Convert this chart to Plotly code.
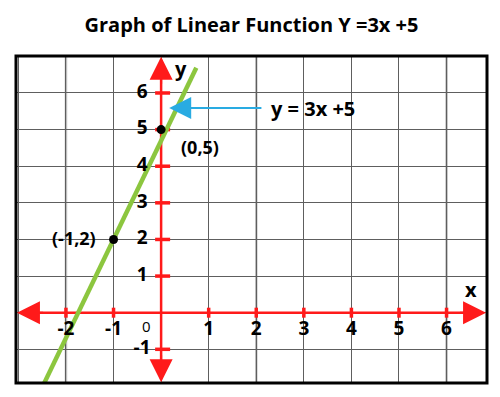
import plotly.graph_objects as go

# ---- data ----
line_x = [-2.46, 0.74]
line_y = [-1.93, 6.69]
point_x = [-1, 0]
point_y = [2, 5]
point_labels = ["(-1,2)", "(0,5)"]
x_ticks = [-2, -1, 1, 2, 3, 4, 5, 6]
x_tick_labels = ["-2", "-1", "1", "2", "3", "4", "5", "6"]
y_ticks = [-1, 1, 2, 3, 4, 5, 6]
y_tick_labels = ["-1", "1", "2", "3", "4", "5", "6"]
light_grid_x = [-2, 2, 6]
equation_label = "y = 3x +5"
title_text = "Graph of Linear Function Y =3x +5"

XR = [-3.05, 6.85]
YR = [-1.92, 7.01]
RED = "#ff1a1a"
FONT = "Open Sans"

fig = go.Figure()

# red axes (lines)
fig.add_trace(go.Scatter(x=[XR[0] + 0.1, XR[1] - 0.1], y=[0, 0], mode="lines",
                         line=dict(color=RED, width=2.5), hoverinfo="skip"))
fig.add_trace(go.Scatter(x=[0, 0], y=[YR[0] + 0.1, YR[1] - 0.1], mode="lines",
                         line=dict(color=RED, width=2.5), hoverinfo="skip"))

# green function line
fig.add_trace(go.Scatter(x=line_x, y=line_y, mode="lines",
                         line=dict(color="#8cc63f", width=4.5),
                         hoverinfo="skip", cliponaxis=True))
# points
fig.add_trace(go.Scatter(x=point_x, y=point_y, mode="markers",
                         marker=dict(color="black", size=9),
                         hoverinfo="skip", cliponaxis=False))

# x tick labels
fig.add_trace(go.Scatter(x=x_ticks, y=[-0.47] * len(x_ticks), mode="text",
                         text=x_tick_labels,
                         textfont=dict(family=FONT, size=19, color="black", weight=700),
                         hoverinfo="skip", cliponaxis=False))
# y tick labels
fig.add_trace(go.Scatter(x=[-0.4] * len(y_ticks), y=y_ticks, mode="text",
                         text=y_tick_labels,
                         textfont=dict(family=FONT, size=19, color="black", weight=700),
                         hoverinfo="skip", cliponaxis=False))

layout_shapes = []
# light grey vertical grid
for gx in light_grid_x:
    layout_shapes.append(dict(type="line", xref="x", yref="paper", x0=gx, x1=gx, y0=0, y1=1,
                              line=dict(color="#bdbdbd", width=2.5), layer="between"))
# red ticks on x axis
for tx in x_ticks:
    layout_shapes.append(dict(type="line", xref="x", yref="y", x0=tx, x1=tx,
                              ysizemode="pixel", yanchor=0, y0=-5, y1=5,
                              line=dict(color=RED, width=3.5), layer="between"))
# red ticks on y axis
for ty in y_ticks:
    layout_shapes.append(dict(type="line", xref="x", yref="y", y0=ty, y1=ty,
                              xsizemode="pixel", xanchor=0, x0=-6, x1=9,
                              line=dict(color=RED, width=3.5), layer="between"))
# frame
layout_shapes.append(dict(type="rect", xref="paper", yref="paper", x0=0, x1=1, y0=0, y1=1,
                          line=dict(color="black", width=3)))

annotations = []
# red arrowheads at the axis ends
arrow_specs = [
    (XR[1] - 0.02, 0, XR[1] - 0.6, 0),
    (XR[0] + 0.02, 0, XR[0] + 0.6, 0),
    (0, YR[1] - 0.02, 0, YR[1] - 0.8),
    (0, YR[0] + 0.02, 0, YR[0] + 0.8),
]
for (hx, hy, tx, ty) in arrow_specs:
    annotations.append(dict(x=hx, y=hy, ax=tx, ay=ty, xref="x", yref="y",
                            axref="x", ayref="y", text="", showarrow=True,
                            arrowhead=2, arrowsize=2.3,
                            arrowwidth=2, arrowcolor=RED))
# blue arrow
annotations.append(dict(x=0.17, y=5.59, ax=2.14, ay=5.59, xref="x", yref="y",
                        axref="x", ayref="y", text="", showarrow=True,
                        arrowhead=2, arrowsize=2.2, arrowwidth=2, arrowcolor="#29abe2"))
# labels
annotations.append(dict(x=2.27, y=5.59, xref="x", yref="y", text=equation_label,
                        showarrow=False, xanchor="left",
                        font=dict(family=FONT, size=20, color="black", weight=700)))
annotations.append(dict(x=0.82, y=4.53, xref="x", yref="y", text=point_labels[1],
                        showarrow=False,
                        font=dict(family=FONT, size=18, color="black", weight=700)))
annotations.append(dict(x=-1.83, y=2.03, xref="x", yref="y", text=point_labels[0],
                        showarrow=False,
                        font=dict(family=FONT, size=18, color="black", weight=700)))
annotations.append(dict(x=0.42, y=6.68, xref="x", yref="y", text="y",
                        showarrow=False,
                        font=dict(family=FONT, size=20, color="black", weight=700)))
annotations.append(dict(x=6.52, y=0.62, xref="x", yref="y", text="x",
                        showarrow=False,
                        font=dict(family=FONT, size=20, color="black", weight=700)))
annotations.append(dict(x=-0.3, y=-0.36, xref="x", yref="y", text="0",
                        showarrow=False,
                        font=dict(family=FONT, size=15, color="black")))

fig.update_layout(
    width=500, height=397,
    margin=dict(l=16, r=13, t=56, b=14),
    paper_bgcolor="white", plot_bgcolor="white",
    showlegend=False,
    title=dict(text=title_text, x=0.5, xanchor="center", xref="paper",
               y=1 - 25 / 397, yref="container", yanchor="middle",
               font=dict(family=FONT, size=20, color="black", weight=700)),
    shapes=layout_shapes,
    annotations=annotations,
    xaxis=dict(range=XR, tick0=0, dtick=1, showgrid=True, gridcolor="#5e5e5e", gridwidth=1,
               zeroline=False, showticklabels=False, ticks="", showline=False, fixedrange=True),
    yaxis=dict(range=YR, tick0=0, dtick=1, showgrid=True, gridcolor="#5e5e5e", gridwidth=1,
               zeroline=False, showticklabels=False, ticks="", showline=False, fixedrange=True),
)

fig.write_html("out.html", config={"displayModeBar": False},
               post_script="document.body.style.margin='0';")
